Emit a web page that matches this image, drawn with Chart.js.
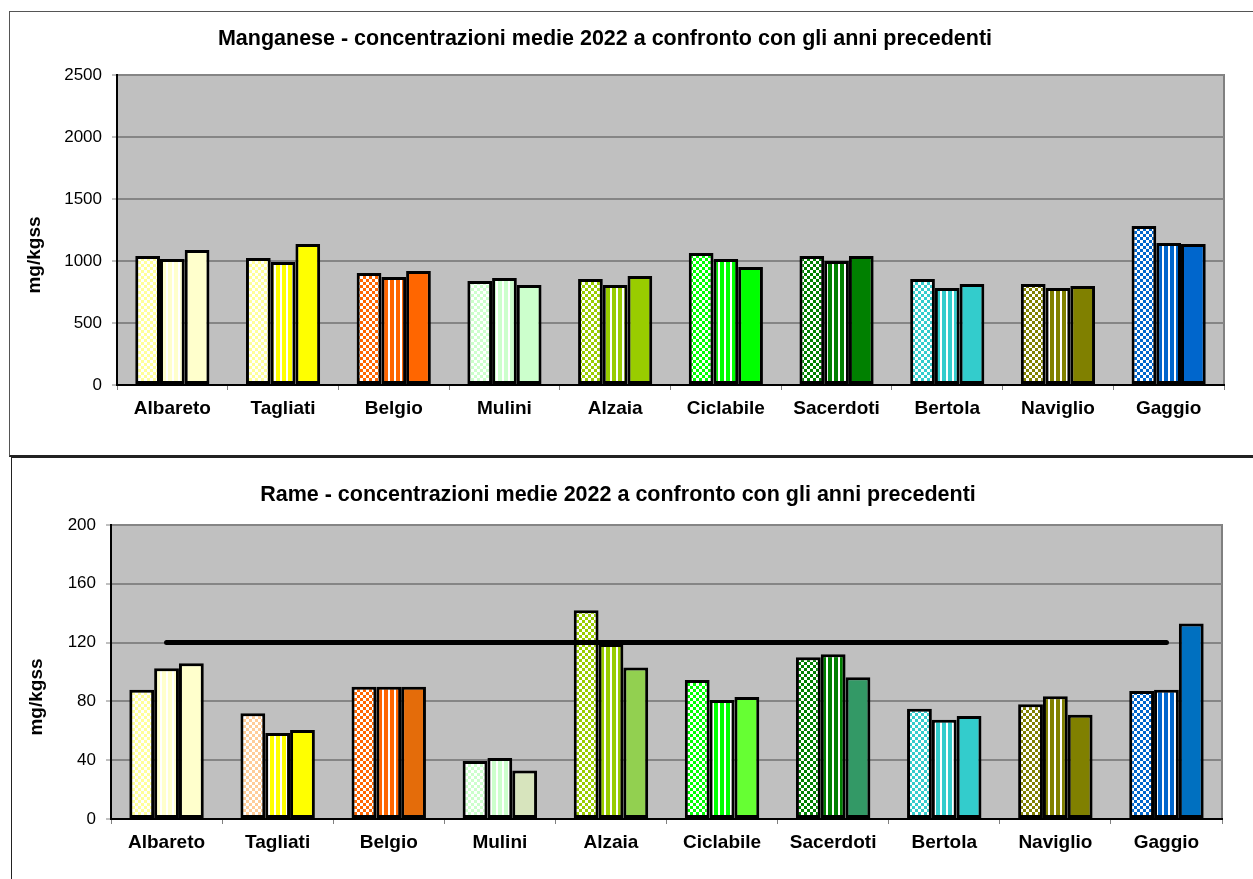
<!DOCTYPE html>
<html lang="it">
<head>
<meta charset="utf-8">
<title>Manganese e Rame - concentrazioni medie 2022</title>
<script src="https://cdn.jsdelivr.net/npm/chart.js@4/dist/chart.umd.min.js"></script>
<style>
    body {
        margin: 0;
        background: #fff;
        width: 1253px;
        height: 879px;
        overflow: hidden;
        position: relative;
        font-family: "Liberation Sans", Arial, sans-serif;
        color: #000;
    }
    .cornice { position: absolute; box-sizing: border-box; }
    #cornice1 { left: 9px; top: 11px; width: 1300px; height: 446px; border: 1px solid #555; border-bottom: 2px solid #222; }
    #cornice2 { left: 11px; top: 457px; width: 1300px; height: 500px; border: 1px solid #222; }
    canvas { position: absolute; left: 0; }
    #graficoMn { top: 0; }
    #graficoCu { top: 455px; }
    .titolo {
        position: absolute;
        font-weight: bold;
        font-size: 21.5px;
        white-space: nowrap;
        transform: translate(-50%, -50%);
    }
    .asse {
        position: absolute;
        font-weight: bold;
        font-size: 19px;
        white-space: nowrap;
        transform: translate(-50%, -50%) rotate(-90deg);
    }
</style>
</head>
<body>
<div class="cornice" id="cornice1"></div>
<div class="cornice" id="cornice2"></div>
<canvas id="graficoMn" width="1253" height="455"></canvas>
<canvas id="graficoCu" width="1253" height="424"></canvas>
<div class="titolo" style="left:605px; top:38px">Manganese - concentrazioni medie 2022 a confronto con gli anni precedenti</div>
<div class="asse" style="left:34px; top:255px">mg/kgss</div>
<div class="titolo" style="left:618px; top:494px">Rame - concentrazioni medie 2022 a confronto con gli anni precedenti</div>
<div class="asse" style="left:36px; top:697px">mg/kgss</div>
<script>
const stazioni = ["Albareto", "Tagliati", "Belgio", "Mulini", "Alzaia", "Ciclabile", "Sacerdoti", "Bertola", "Naviglio", "Gaggio"];
const anni = ["2020", "2021", "2022"];

// manganese, mg/kgss
const mn2020 = [1040, 1024, 903, 839, 855, 1065, 1040, 855, 815, 1282];
const mn2021 = [1016, 992, 871, 863, 806, 1016, 1000, 782, 782, 1145];
const mn2022 = [1089, 1137, 919, 806, 879, 952, 1040, 815, 798, 1137];
const mnMax = 2500;
const mnStep = 500;

// rame, mg/kgss
const cu2020 = [88, 72, 90, 39.5, 142, 94.5, 110, 75, 78, 87];
const cu2021 = [102.5, 58.5, 90, 41.5, 119, 81, 112, 67.5, 83.5, 88];
const cu2022 = [106, 60.5, 90, 33, 103, 83, 96.5, 70, 71, 133];
const cuLimite = [120, 120, 120, 120, 120, 120, 120, 120, 120, 120];
const cuMax = 200;
const cuStep = 40;

// colori per stazione: [scacchi, righe, pieno]
const coloriMn = [
    ["#FFFF99", "#FFFFCC", "#FFFFCC"],
    ["#FFFF99", "#FFFF00", "#FFFF00"],
    ["#FF6600", "#FF6600", "#FF6600"],
    ["#CCFFCC", "#CCFFCC", "#CCFFCC"],
    ["#99CC00", "#99CC00", "#99CC00"],
    ["#00FF00", "#00FF00", "#00FF00"],
    ["#008000", "#008000", "#008000"],
    ["#33CCCC", "#33CCCC", "#33CCCC"],
    ["#808000", "#808000", "#808000"],
    ["#0066CC", "#0066CC", "#0066CC"]
];
const coloriCu = [
    ["#FFFF99", "#FFFFCC", "#FFFFCC"],
    ["#FFCC99", "#FFFF00", "#FFFF00"],
    ["#FF6600", "#FF6600", "#E46C0A"],
    ["#CCFFCC", "#CCFFCC", "#D7E4BD"],
    ["#99CC00", "#99CC00", "#92D050"],
    ["#00FF00", "#00FF00", "#66FF33"],
    ["#008000", "#008000", "#339966"],
    ["#33CCCC", "#33CCCC", "#33CCCC"],
    ["#808000", "#808000", "#808000"],
    ["#0066CC", "#0066CC", "#0070C0"]
];

Chart.defaults.font.family = '"Liberation Sans", Arial, sans-serif';
Chart.defaults.color = "#000";

function scacchi(colore) {
    const c = document.createElement("canvas");
    c.width = 6;
    c.height = 6;
    const g = c.getContext("2d");
    g.fillStyle = colore;
    g.fillRect(0, 0, 6, 6);
    g.fillStyle = "#fff";
    g.fillRect(0, 0, 3, 3);
    g.fillRect(3, 3, 3, 3);
    return g.createPattern(c, "repeat");
}

function righe(colore) {
    const c = document.createElement("canvas");
    c.width = 6;
    c.height = 1;
    const g = c.getContext("2d");
    g.fillStyle = "#fff";
    g.fillRect(0, 0, 6, 1);
    g.fillStyle = colore;
    g.fillRect(0, 0, 4, 1);
    return g.createPattern(c, "repeat");
}

// sfondo grigio dell'area del grafico con bordo sopra e a destra
const sfondoArea = {
    id: "sfondoArea",
    beforeDraw(chart) {
        const { ctx, chartArea: a } = chart;
        ctx.save();
        ctx.fillStyle = "#C0C0C0";
        ctx.fillRect(a.left, a.top, a.width, a.height);
        ctx.strokeStyle = "#808080";
        ctx.lineWidth = 2;
        ctx.beginPath();
        ctx.moveTo(a.left, a.top);
        ctx.lineTo(a.right, a.top);
        ctx.lineTo(a.right, a.bottom);
        ctx.stroke();
        ctx.restore();
    }
};

function barre(serie, colori) {
    return serie.map((valori, i) => ({
        type: "bar",
        label: anni[i],
        data: valori,
        backgroundColor: colori.map(c => i === 0 ? scacchi(c[0]) : i === 1 ? righe(c[1]) : c[2]),
        borderColor: "#000",
        borderWidth: 3,
        borderSkipped: false,
        categoryPercentage: 0.67,
        barPercentage: 1,
        order: 1
    }));
}

function opzioni(max, step, sopra, destra, sinistra, sotto) {
    return {
        responsive: false,
        animation: false,
        layout: { padding: { top: sopra, right: destra, left: 0, bottom: 0 } },
        plugins: {
            legend: { display: false },
            title: { display: false },
            tooltip: { enabled: false }
        },
        scales: {
            x: {
                grid: { drawOnChartArea: false, tickLength: 5, color: "#808080", lineWidth: 1 },
                border: { color: "#000", width: 2 },
                ticks: { font: { size: 19, weight: "bold" }, padding: 7, autoSkip: false, maxRotation: 0 },
                afterFit(s) { s.height = sotto; }
            },
            y: {
                min: 0,
                max: max,
                ticks: {
                    stepSize: step,
                    font: { size: 17 },
                    padding: 10,
                    callback: v => String(v)
                },
                grid: { color: "#858585", lineWidth: 2, tickLength: 5, tickColor: "#808080", tickWidth: 1 },
                border: { color: "#000", width: 2 },
                afterFit(s) { s.width = sinistra; }
            }
        }
    };
}

new Chart(document.getElementById("graficoMn"), {
    data: {
        labels: stazioni,
        datasets: barre([mn2020, mn2021, mn2022], coloriMn)
    },
    options: opzioni(mnMax, mnStep, 75, 29, 117, 70),
    plugins: [sfondoArea]
});

new Chart(document.getElementById("graficoCu"), {
    data: {
        labels: stazioni,
        datasets: [
            {
                type: "line",
                label: "limite",
                data: cuLimite,
                borderColor: "#000",
                borderWidth: 5,
                borderCapStyle: "round",
                pointRadius: 0,
                fill: false,
                order: 0
            },
            ...barre([cu2020, cu2021, cu2022], coloriCu)
        ]
    },
    options: opzioni(cuMax, cuStep, 70, 31, 111, 60),
    plugins: [sfondoArea]
});
</script>
</body>
</html>
